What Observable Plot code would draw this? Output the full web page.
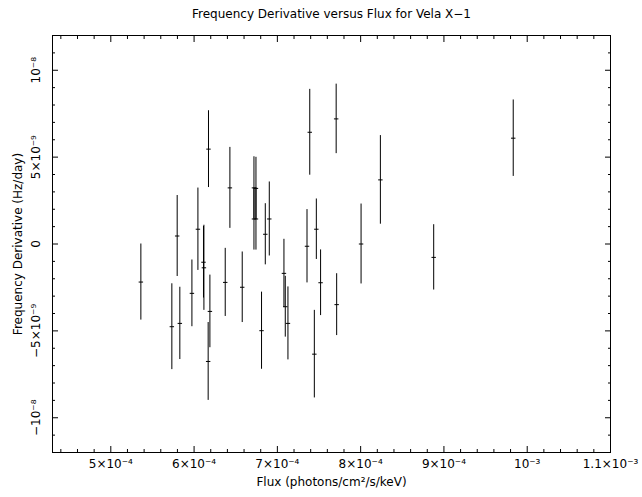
<!DOCTYPE html>
<html><head><meta charset="utf-8">
<script src="https://cdn.jsdelivr.net/npm/d3@7"></script>
<script src="https://cdn.jsdelivr.net/npm/@observablehq/plot@0.6"></script>
<style>
body{margin:0;background:#fff}
svg{font-family:"DejaVu Sans",sans-serif}
</style>
</head><body><div id="chart"></div>
<script>
const titleText = "Frequency Derivative versus Flux for Vela X\u22121";
const xLabel = "Flux (photons/cm\u00b2/s/keV)";
const yLabel = "Frequency Derivative (Hz/day)";

const flux = [5.361e-4,5.733e-4,5.797e-4,5.829e-4,5.974e-4,6.046e-4,6.113e-4,6.118e-4,6.173e-4,6.169e-4,
  6.190e-4,6.374e-4,6.430e-4,6.578e-4,6.719e-4,6.719e-4,6.743e-4,6.743e-4,6.810e-4,6.855e-4,
  6.903e-4,7.079e-4,7.095e-4,7.127e-4,7.356e-4,7.389e-4,7.444e-4,7.468e-4,7.519e-4,7.706e-4,
  7.712e-4,8.005e-4,8.237e-4,8.877e-4,9.832e-4];
const fdot = [-2.19e-9,-4.76e-9,0.46e-9,-4.57e-9,-2.84e-9,0.85e-9,-1.05e-9,-1.37e-9,5.46e-9,-6.76e-9,
  -3.88e-9,-2.21e-9,3.23e-9,-2.49e-9,3.23e-9,1.44e-9,3.20e-9,1.44e-9,-4.99e-9,0.56e-9,
  1.44e-9,-1.69e-9,-3.61e-9,-4.57e-9,-0.13e-9,6.43e-9,-6.34e-9,0.85e-9,-2.23e-9,7.20e-9,
  -3.49e-9,0.0,3.69e-9,-0.77e-9,6.09e-9];
const fdotErr = [2.19e-9,2.47e-9,2.33e-9,2.08e-9,1.92e-9,2.37e-9,2.06e-9,2.45e-9,2.21e-9,2.24e-9,
  2.09e-9,1.96e-9,2.33e-9,2.03e-9,1.79e-9,1.79e-9,1.79e-9,1.79e-9,2.22e-9,1.76e-9,
  2.13e-9,1.96e-9,1.75e-9,2.10e-9,2.11e-9,2.47e-9,2.52e-9,1.74e-9,1.89e-9,2.00e-9,
  1.78e-9,2.30e-9,2.55e-9,1.88e-9,2.20e-9];

const xMajor = [5e-4,6e-4,7e-4,8e-4,9e-4,1e-3,1.1e-3];
const xMajorLabels = ["5\u00d710\u207b\u2074","6\u00d710\u207b\u2074","7\u00d710\u207b\u2074","8\u00d710\u207b\u2074","9\u00d710\u207b\u2074","10\u207b\u00b3","1.1\u00d710\u207b\u00b3"];
const xMinor = [4.4e-4,4.6e-4,4.8e-4,5.2e-4,5.4e-4,5.6e-4,5.8e-4,6.2e-4,6.4e-4,6.6e-4,6.8e-4,7.2e-4,7.4e-4,7.6e-4,7.8e-4,8.2e-4,8.4e-4,8.6e-4,8.8e-4,9.2e-4,9.4e-4,9.6e-4,9.8e-4,1.02e-3,1.04e-3,1.06e-3,1.08e-3];
const yMajor = [-1e-8,-5e-9,0,5e-9,1e-8];
const yMajorLabels = ["\u221210\u207b\u2078","\u22125\u00d710\u207b\u2079","0","5\u00d710\u207b\u2079","10\u207b\u2078"];
const yMinor = [-1.1e-8,-9e-9,-8e-9,-7e-9,-6e-9,-4e-9,-3e-9,-2e-9,-1e-9,1e-9,2e-9,3e-9,4e-9,6e-9,7e-9,8e-9,9e-9,1.1e-8];

const data = flux.map((f,i) => ({flux:f, fdot:fdot[i], err:fdotErr[i]}));
const fmtX = v => xMajorLabels[xMajor.findIndex(t => Math.abs(t-v) < 1e-9)];
const fmtY = v => yMajorLabels[yMajor.findIndex(t => Math.abs(t-v) < 1e-12)];

const dash = {draw(ctx, size){ const r = Math.sqrt(size)/2; ctx.moveTo(-r,0); ctx.lineTo(r,0); }};

const fs = 12;
const chart = Plot.plot({
  width: 642, height: 497,
  marginLeft: 52, marginRight: 32, marginTop: 35, marginBottom: 45,
  style: {fontSize: fs+"px", fontFamily: "DejaVu Sans, sans-serif", color:"#000"},
  x: {domain: [4.3e-4, 1.1e-3]},
  y: {domain: [-1.2e-8, 1.2e-8]},
  marks: [
    Plot.frame({stroke:"#000"}),
    Plot.axisX({anchor:"bottom", ticks:xMajor, tickSize:-6, tickFormat:()=>"", label:null}),
    Plot.axisX({anchor:"bottom", ticks:xMinor, tickSize:-3, tickFormat:()=>"", label:null}),
    Plot.axisX({anchor:"bottom", ticks:xMajor, tickSize:0, tickPadding:7, tickFormat:fmtX, label:null, fontSize:fs}),
    Plot.axisX({anchor:"top", ticks:xMajor, tickSize:-6, tickFormat:()=>"", label:null}),
    Plot.axisX({anchor:"top", ticks:xMinor, tickSize:-3, tickFormat:()=>"", label:null}),
    Plot.axisY({anchor:"left", ticks:yMajor, tickSize:-6, tickFormat:()=>"", label:null}),
    Plot.axisY({anchor:"left", ticks:yMinor, tickSize:-3, tickFormat:()=>"", label:null}),
    Plot.axisY({anchor:"left", ticks:yMajor, tickSize:0, tickPadding:16, tickRotate:-90, tickFormat:fmtY, label:null, textAnchor:"middle", lineAnchor:"middle", fontSize:fs}),
    Plot.axisY({anchor:"right", ticks:yMajor, tickSize:-6, tickFormat:()=>"", label:null}),
    Plot.axisY({anchor:"right", ticks:yMinor, tickSize:-3, tickFormat:()=>"", label:null}),
    Plot.ruleX(data, {x:"flux", y1: d => d.fdot - d.err, y2: d => d.fdot + d.err, stroke:"#000", strokeWidth:1}),
    Plot.dot(data, {x:"flux", y:"fdot", symbol: dash, r: 2.5, stroke:"#000", strokeWidth:1, fill:"none"}),
    Plot.text([titleText], {frameAnchor:"top", dy:-18, lineAnchor:"bottom", fontSize:fs, fill:"#000"}),
    Plot.text([xLabel], {frameAnchor:"bottom", dy:33, lineAnchor:"bottom", fontSize:fs, fill:"#000"}),
    Plot.text([yLabel], {frameAnchor:"left", dx:-34, rotate:-90, lineAnchor:"middle", textAnchor:"middle", fontSize:fs, fill:"#000"})
  ]
});
document.getElementById("chart").appendChild(chart);
</script>
</body></html>
